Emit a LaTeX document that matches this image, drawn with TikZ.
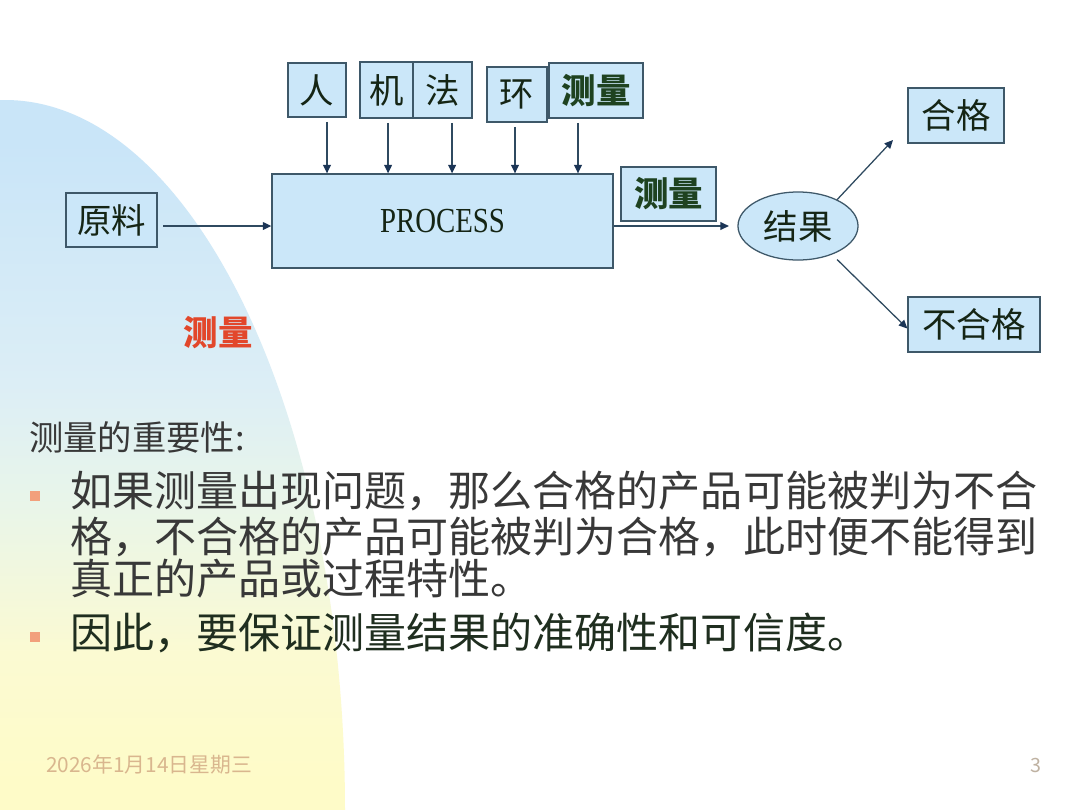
\documentclass[tikz,border=0pt]{standalone}
\usepackage{fontspec}
\setmainfont{Noto Sans CJK SC}
\newfontfamily\procfont{Liberation Serif}
\usetikzlibrary{shapes.geometric,arrows.meta}
\definecolor{boxfill}{HTML}{CBE7F9}
\definecolor{boxline}{HTML}{3E5869}
\definecolor{arrowc}{HTML}{2F4A60}
\definecolor{tipc}{HTML}{1B3556}
\definecolor{txt}{HTML}{152515}
\definecolor{clgreen}{HTML}{1E4220}
\definecolor{redt}{HTML}{E2472B}
\definecolor{bodyt}{HTML}{383838}
\definecolor{bodyd}{HTML}{1F2E1F}
\definecolor{bullc}{HTML}{F2A07C}
\definecolor{datec}{HTML}{D9B68E}
\definecolor{pagec}{HTML}{BFB2A2}
\definecolor{bgA}{HTML}{FEFBC8}
\definecolor{bgB}{HTML}{FBFAD2}
\definecolor{bgC}{HTML}{E8F5EA}
\definecolor{bgD}{HTML}{DCEEF6}
\definecolor{bgE}{HTML}{C9E5F8}
\pgfdeclareverticalshading{bgshade}{100bp}{color(0bp)=(bgA); color(27bp)=(bgA); color(36bp)=(bgB); color(47bp)=(bgC); color(55bp)=(bgD); color(72bp)=(bgE); color(100bp)=(bgE)}
\tikzset{
  box/.style={draw=boxline, fill=boxfill, line width=0.9pt, inner sep=0pt, text=txt,
    font=\fontsize{24.5}{28}\selectfont},
  clbox/.style={box, text=clgreen, font=\fontsize{24.5}{28}\selectfont\bfseries},
  arr/.style={draw=arrowc, line width=0.9pt, -{Triangle[length=6pt,width=5.5pt,color=tipc]}},
  bull/.style={fill=bullc, minimum size=0.25cm, inner sep=0pt},
  bodyline/.style={anchor=west, inner sep=0pt, text=bodyt, font=\fontsize{29.9}{34}\selectfont},
}
\begin{document}
\begin{tikzpicture}[x=0.025cm, y=-0.025cm]
\useasboundingbox (0,0) rectangle (1080,810);
\fill[white] (0,0) rectangle (1080,810);
\shade[shading=bgshade] (0,100) -- (5,100) arc[start angle=-90, end angle=0, x radius=340, y radius=710] -- (0,810) -- cycle;

% top input boxes
\node[box, minimum width=1.45cm, minimum height=1.35cm] (ren) at (317,90) {人};
\node[box, minimum width=1.325cm, minimum height=1.4cm] (ji) at (386.5,90) {机};
\node[box, minimum width=1.475cm, minimum height=1.4cm] (fa) at (442.5,90) {法};
\node[box, minimum width=1.5cm, minimum height=1.375cm] (huan) at (517,94.5) {环};
\node[clbox, minimum width=2.35cm, minimum height=1.375cm] (cl1) at (596,90.5) {测量};

% process
\node[box, minimum width=8.525cm, minimum height=2.35cm, text=txt,
  font=\procfont\fontsize{25}{30}\selectfont] (proc) at (442.5,221) {\scalebox{0.82}[1]{PROCESS}};
\node[box, minimum width=2.275cm, minimum height=1.35cm] (yl) at (111.5,220) {原料};
\node[clbox, minimum width=2.375cm, minimum height=1.35cm] (cl2) at (668.5,194) {测量};
\node[box, ellipse, minimum width=3.0cm, minimum height=1.7cm] (res) at (798,226) {结果};
\node[box, minimum width=2.4cm, minimum height=1.375cm] (ok) at (956,115.5) {合格};
\node[box, minimum width=3.3cm, minimum height=1.375cm] (nok) at (974,324.5) {不合格};

% arrows from inputs
\coordinate (t1) at ([xshift=0.25cm]ren.south);
\coordinate (t2) at ([xshift=0.04cm]ji.south);
\coordinate (t3) at ([xshift=0.24cm]fa.south);
\coordinate (t4) at ([xshift=-0.05cm]huan.south);
\coordinate (t5) at ([xshift=-0.45cm]cl1.south);
\foreach \t in {t1,t2,t3,t4,t5}
  \draw[arr, shorten <=3pt] (\t) -- (\t |- proc.north);

% main flow
\coordinate (ylout) at ([yshift=-0.15cm]yl.east);
\draw[arr, shorten <=4pt] (ylout) -- (ylout -| proc.west);
\coordinate (procout) at ([yshift=-0.125cm]proc.east);
\draw[arr, shorten >=6pt] (procout) -- (procout -| res.west);
\coordinate (okend) at (893,140);
\draw[arr] (res.34) -- (okend);
\draw[arr, shorten <=5pt] (res.-40) -- ([yshift=-0.1cm]nok.west);

% red label
\node[text=redt, font=\fontsize{24.5}{28}\selectfont\bfseries] (clr) at (218,333) {测量};

% body text
\node[anchor=west, inner sep=0pt, text=bodyt, font=\fontsize{24.4}{28}\selectfont] (imp) at (29,437) {测量的重要性:};
\node[bull] (b1) at (35,496) {};
\node[bodyline] (l1) at (70,491) {如果测量出现问题，那么合格的产品可能被判为不合};
\node[bodyline] (l2) at (70,537) {格，不合格的产品可能被判为合格，此时便不能得到};
\node[bodyline] (l3) at (70,579) {真正的产品或过程特性。};
\node[bull] (b2) at (35,637) {};
\node[bodyline, text=bodyd] (l4) at (70,633) {因此，要保证测量结果的准确性和可信度。};

% footer
\node[anchor=west, inner sep=0pt, text=datec, font=\fontsize{14.8}{17}\selectfont] (date) at (46,765) {2026年1月14日星期三};
\node[text=pagec, inner sep=0pt, font=\fontsize{14}{16}\selectfont] (pg) at (1036,765) {3};
\end{tikzpicture}
\end{document}
